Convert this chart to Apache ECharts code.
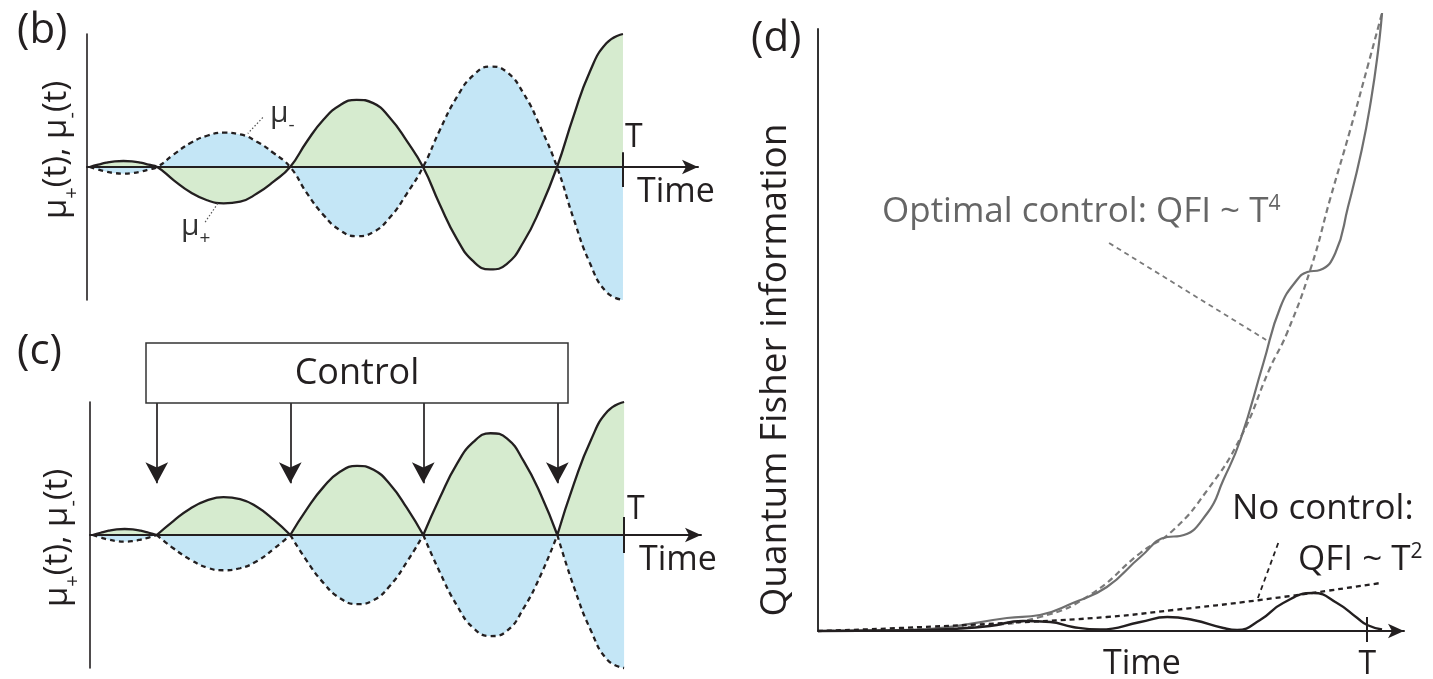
<!DOCTYPE html>
<html lang="en">
<head>
<meta charset="utf-8">
<title>Control and QFI</title>
<script src="https://cdn.jsdelivr.net/npm/echarts@6.0.0/dist/echarts.min.js"></script>
<style>
    html, body { margin: 0; padding: 0; background: #fff; }
    #chart { width: 1433px; height: 679px; }
</style>
</head>
<body>
<div id="chart"></div>
<script>
    // ---- panel (b): free evolution, time in units of T ----
    const bTime = [0.005, 0.021, 0.036, 0.052, 0.068, 0.084, 0.100, 0.115, 0.131,
        0.162, 0.193, 0.224, 0.255, 0.286, 0.317, 0.348, 0.379,
        0.410, 0.441, 0.472, 0.503, 0.534, 0.565, 0.596, 0.627,
        0.658, 0.690, 0.721, 0.752, 0.783, 0.815, 0.846, 0.877,
        0.908, 0.938, 0.969, 1.0];
    const bPlus = [0, 0.017, 0.032, 0.042, 0.045, 0.042, 0.032, 0.017, 0,
        -0.10, -0.19, -0.25, -0.273, -0.26, -0.20, -0.11, 0,
        0.19, 0.355, 0.465, 0.505, 0.48, 0.37, 0.20, 0,
        -0.28, -0.54, -0.71, -0.77, -0.73, -0.56, -0.31, 0,
        0.385, 0.715, 0.93, 1.0];
    const bMinus = [0, -0.019, -0.035, -0.046, -0.05, -0.046, -0.035, -0.019, 0,
        0.095, 0.18, 0.235, 0.258, 0.245, 0.19, 0.105, 0,
        -0.195, -0.36, -0.475, -0.52, -0.49, -0.38, -0.205, 0,
        0.275, 0.525, 0.69, 0.755, 0.715, 0.55, 0.30, 0,
        -0.39, -0.72, -0.94, -1.0];

    // ---- panel (c): with control pulses ----
    const cTime = [0.005, 0.020, 0.035, 0.050, 0.065, 0.080, 0.095, 0.110, 0.125,
        0.156, 0.188, 0.219, 0.25, 0.281, 0.313, 0.344, 0.375,
        0.406, 0.437, 0.468, 0.5, 0.531, 0.562, 0.593, 0.624,
        0.655, 0.687, 0.718, 0.75, 0.781, 0.812, 0.844, 0.875,
        0.906, 0.938, 0.969, 1.0];
    const cPlus = [0, 0.017, 0.032, 0.042, 0.045, 0.042, 0.032, 0.017, 0,
        0.105, 0.20, 0.26, 0.285, 0.27, 0.21, 0.115, 0,
        0.195, 0.36, 0.475, 0.52, 0.49, 0.38, 0.205, 0,
        0.28, 0.535, 0.70, 0.765, 0.725, 0.555, 0.305, 0,
        0.385, 0.715, 0.93, 1.0];
    const cMinus = [0, -0.019, -0.035, -0.046, -0.05, -0.046, -0.035, -0.019, 0,
        -0.10, -0.185, -0.245, -0.265, -0.25, -0.195, -0.105, 0,
        -0.195, -0.36, -0.475, -0.52, -0.49, -0.38, -0.205, 0,
        -0.28, -0.53, -0.70, -0.76, -0.72, -0.55, -0.30, 0,
        -0.39, -0.72, -0.94, -1.0];
    const cCusps = [8, 16, 24, 32];
    const controlTimes = [0.125, 0.375, 0.624, 0.875];

    // ---- panel (d): quantum Fisher information ----
    const optTime = [0, 0.149, 0.222, 0.344, 0.404, 0.464, 0.526, 0.587, 0.636, 0.659, 0.709, 0.738,
        0.769, 0.811, 0.842, 0.872, 0.891, 0.914, 0.942, 0.965, 0.990, 1.007, 1.020, 1.027];
    const optQfi = [0, 0.01, 0.03, 0.13, 0.16, 0.28, 0.44, 0.74, 0.94, 0.95, 1.18, 1.51,
        1.91, 2.68, 3.24, 3.51, 3.59, 3.61, 3.78, 4.24, 4.81, 5.31, 5.81, 6.18];
    const fit4Time = [0, 0.149, 0.295, 0.404, 0.495, 0.587, 0.647, 0.709, 0.769, 0.823, 0.854,
        0.898, 0.933, 0.969, 1.002, 1.027];
    const fit4Qfi = [0, 0.01, 0.05, 0.14, 0.36, 0.78, 1.01, 1.41, 1.93, 2.63, 2.98,
        3.64, 4.33, 5.01, 5.67, 6.18];
    const noTime = [0, 0.149, 0.259, 0.313, 0.373, 0.423, 0.464, 0.514, 0.587, 0.636, 0.683,
        0.738, 0.763, 0.805, 0.847, 0.902, 0.945, 0.982, 1.0, 1.027];
    const noQfi = [0, 0.005, 0.025, 0.05, 0.10, 0.09, 0.04, 0.015, 0.09, 0.14, 0.11,
        0.03, 0.01, 0.11, 0.28, 0.38, 0.28, 0.13, 0.06, 0.015];
    const fit2Time = [0, 0.149, 0.341, 0.526, 0.647, 0.805, 1.024];
    const fit2Qfi = [0, 0.03, 0.08, 0.14, 0.21, 0.31, 0.48];

    const FONT = '"Open Sans", "DejaVu Sans", sans-serif';
    const INK = '#231f20';
    const GRAY = '#6f6f6f';
    const GREEN = '#d6ebcf';
    const BLUE = '#c4e6f6';

    function pairs(ts, vs) {
        return ts.map((t, i) => [t, vs[i]]);
    }

    // break the line at the cusps so each lobe is smoothed on its own
    function withCusps(ts, vs, cusps) {
        const out = [];
        ts.forEach((t, i) => {
            out.push([t, vs[i]]);
            if (cusps.indexOf(i) >= 0) {
                out.push([t, '-']);
                out.push([t, vs[i]]);
            }
        });
        return out;
    }

    function timeAxis(grid, max, tickLen, withLabel) {
        return {
            gridIndex: grid, type: 'value', min: 0, max: max, z: 5,
            axisLine: {
                onZero: true, symbol: ['none', 'arrow'], symbolSize: [11, 16],
                lineStyle: {color: INK, width: 2}
            },
            axisTick: {show: true, customValues: [1], length: tickLen, inside: false, lineStyle: {color: INK, width: 2}},
            axisLabel: {
                show: withLabel, customValues: [1], formatter: () => 'T', margin: 18,
                color: INK, fontSize: 32, fontFamily: FONT
            },
            splitLine: {show: false}
        };
    }

    function valueAxis(grid, min, max, color, width) {
        return {
            gridIndex: grid, type: 'value', min: min, max: max,
            axisLine: {show: true, onZero: false, lineStyle: {color: color, width: width}},
            axisTick: {show: false}, axisLabel: {show: false}, splitLine: {show: false}
        };
    }

    function marks(data, style, symbol) {
        return {
            silent: true, symbol: symbol || ['none', 'none'], symbolSize: [17, 21],
            label: {show: false}, emphasis: {disabled: true},
            lineStyle: Object.assign({color: INK, width: 2, type: 'solid'}, style),
            data: data
        };
    }

    function stub(top) {
        return [[{coord: [1, 0]}, {coord: [1, top]}]];
    }

    function text(x, y, str, size, align, extra) {
        return Object.assign({
            type: 'text', x: x, y: y,
            style: {text: str, fontSize: size, fontFamily: FONT, fill: INK, align: align, verticalAlign: 'middle'}
        }, extra || {});
    }

    function muLabel(x, y) {
        return {
            type: 'text', x: x, y: y, rotation: Math.PI / 2,
            style: {
                text: '{m|μ}{s|+}{m|(t), μ}{s|-}{m|(t)}', align: 'center', verticalAlign: 'middle',
                rich: {
                    m: {fontSize: 33, fontFamily: FONT, fill: INK, lineHeight: 50, verticalAlign: 'middle'},
                    s: {fontSize: 20, fontFamily: FONT, fill: INK, lineHeight: 20, verticalAlign: 'bottom'}
                }
            }
        };
    }

    function subLabel(x, y, sub) {
        return {
            type: 'text', x: x, y: y,
            style: {
                text: '{m|μ}{s|' + sub + '}', align: 'left', verticalAlign: 'middle',
                rich: {
                    m: {fontSize: 30, fontFamily: FONT, fill: '#333', lineHeight: 44, verticalAlign: 'middle'},
                    s: {fontSize: 19, fontFamily: FONT, fill: '#333', lineHeight: 19, verticalAlign: 'bottom'}
                }
            }
        };
    }

    function supLabel(x, y, main, sup, color) {
        return {
            type: 'text', x: x, y: y,
            style: {
                text: '{m|' + main + '}{p|' + sup + '}', align: 'left', verticalAlign: 'middle',
                rich: {
                    m: {fontSize: 35, fontFamily: FONT, fill: color, lineHeight: 36, verticalAlign: 'middle'},
                    p: {fontSize: 21, fontFamily: FONT, fill: color, lineHeight: 21, verticalAlign: 'top'}
                }
            }
        };
    }

    const solid = {color: INK, width: 2.3, type: 'solid'};
    const dashed = {color: INK, width: 2.3, type: [5, 4]};

    const chart = echarts.init(document.getElementById('chart'), null, {renderer: 'canvas'});

    const option = {
        animation: false,
        backgroundColor: '#fff',
        textStyle: {fontFamily: FONT},
        grid: [
            {left: 87, top: 34, width: 611, height: 266, outerBoundsMode: 'none'},
            {left: 90, top: 402, width: 611, height: 266, outerBoundsMode: 'none'},
            {left: 818, top: 29, width: 586, height: 602, outerBoundsMode: 'none'}
        ],
        xAxis: [
            timeAxis(0, 1.14, 20, false),
            timeAxis(1, 1.144, 18, false),
            timeAxis(2, 1.067, 11, true)
        ],
        yAxis: [
            valueAxis(0, -1, 1, INK, 1.6),
            valueAxis(1, -1, 1, INK, 1.6),
            valueAxis(2, 0, 6.02, '#333', 2)
        ],
        series: [
            {
                name: 'b plus', type: 'line', xAxisIndex: 0, yAxisIndex: 0, data: pairs(bTime, bPlus),
                smooth: true, symbol: 'none', clip: false, z: 3,
                lineStyle: solid, areaStyle: {color: GREEN, opacity: 1},
                markLine: marks(stub(0.11))
            },
            {
                name: 'b minus', type: 'line', xAxisIndex: 0, yAxisIndex: 0, data: pairs(bTime, bMinus),
                smooth: true, symbol: 'none', clip: false, z: 3,
                lineStyle: dashed, areaStyle: {color: BLUE, opacity: 1},
                markLine: marks([
                    [{coord: [0.328, 0.372]}, {coord: [0.300, 0.252]}],
                    [{coord: [0.244, -0.274]}, {coord: [0.220, -0.417]}]
                ], {color: '#555', width: 1.2, type: [1.5, 2]})
            },
            {
                name: 'c plus', type: 'line', xAxisIndex: 1, yAxisIndex: 1,
                data: withCusps(cTime, cPlus, cCusps),
                smooth: true, symbol: 'none', clip: false, z: 3,
                lineStyle: solid, areaStyle: {color: GREEN, opacity: 1},
                markLine: marks(controlTimes.map(t => [{coord: [t, 1]}, {coord: [t, 0.39]}]),
                    {width: 1.7}, ['none', 'arrow'])
            },
            {
                name: 'c minus', type: 'line', xAxisIndex: 1, yAxisIndex: 1,
                data: withCusps(cTime, cMinus, cCusps),
                smooth: true, symbol: 'none', clip: false, z: 3,
                lineStyle: dashed, areaStyle: {color: BLUE, opacity: 1},
                markLine: marks(stub(0.135))
            },
            {
                name: 'T^4 fit', type: 'line', xAxisIndex: 2, yAxisIndex: 2, data: pairs(fit4Time, fit4Qfi),
                smooth: true, symbol: 'none', clip: false, z: 3,
                lineStyle: {color: '#7a7a7a', width: 2.2, type: [6, 4]},
                markLine: marks([[{coord: [0.530, 3.88]}, {coord: [0.816, 2.91]}]],
                    {color: '#7a7a7a', width: 1.8, type: [5, 4]})
            },
            {
                name: 'optimal control', type: 'line', xAxisIndex: 2, yAxisIndex: 2, data: pairs(optTime, optQfi),
                smooth: true, symbol: 'none', clip: false, z: 3,
                lineStyle: {color: GRAY, width: 2.2}
            },
            {
                name: 'T^2 fit', type: 'line', xAxisIndex: 2, yAxisIndex: 2, data: pairs(fit2Time, fit2Qfi),
                smooth: true, symbol: 'none', clip: false, z: 4,
                lineStyle: {color: INK, width: 2.3, type: [5, 4]},
                markLine: marks([[{coord: [0.838, 0.88]}, {coord: [0.801, 0.33]}]],
                    {width: 1.8, type: [5, 4]})
            },
            {
                name: 'no control', type: 'line', xAxisIndex: 2, yAxisIndex: 2, data: pairs(noTime, noQfi),
                smooth: true, symbol: 'none', clip: false, z: 4,
                lineStyle: {color: INK, width: 2.4},
                markLine: marks(stub(0.14))
            }
        ],
        graphic: [
            text(17, 31, '(b)', 42, 'left'),
            text(17, 352, '(c)', 42, 'left'),
            text(751, 39, '(d)', 42, 'left'),
            muLabel(57, 150),
            muLabel(58, 538),
            text(775, 370, 'Quantum Fisher information', 37, 'center', {rotation: Math.PI / 2}),
            text(625, 138, 'T', 32, 'left'),
            text(627, 510, 'T', 32, 'left'),
            text(637, 192, 'Time', 34, 'left'),
            text(639, 560, 'Time', 34, 'left'),
            text(1142, 664, 'Time', 34, 'center'),
            subLabel(270, 113, '-'),
            subLabel(181, 226, '+'),
            {
                type: 'rect', z: 10, shape: {x: 146, y: 343, width: 422, height: 60},
                style: {fill: '#fff', stroke: '#333', lineWidth: 1.5}
            },
            text(357, 374, 'Control', 36, 'center', {z: 11}),
            supLabel(882, 212, 'Optimal control: QFI ~ T', '4', '#666'),
            text(1232, 509, 'No control:', 35, 'left'),
            supLabel(1298, 560, 'QFI ~ T', '2', INK)
        ]
    };

    chart.setOption(option);
    window.onresize = function () {
        chart.resize();
    };
</script>
</body>
</html>
